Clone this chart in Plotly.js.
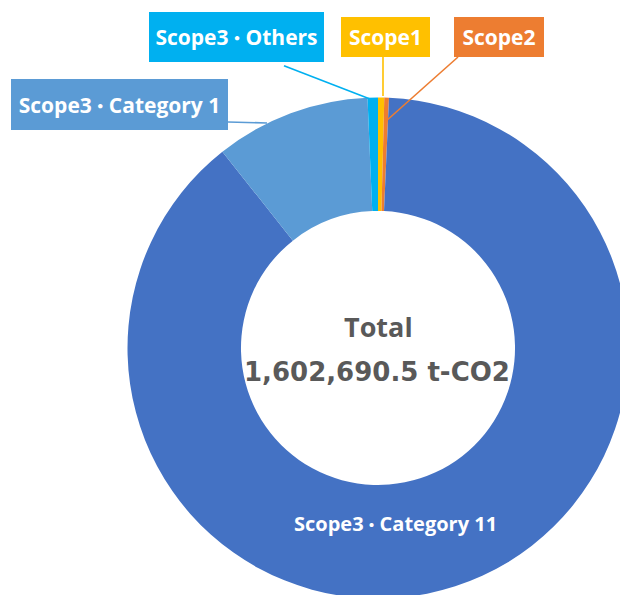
<!DOCTYPE html>
<html>
<head>
<meta charset="utf-8">
<script src="https://cdn.plot.ly/plotly-3.0.1.min.js"></script>
<style>
  html, body { margin: 0; padding: 0; overflow: hidden; background: #ffffff; }
  #chart { width: 760px; height: 760px; }
</style>
</head>
<body>
<div id="chart"></div>
<script>
// ---- data ----
const categories = ["Scope1", "Scope2", "Scope3・Category 11", "Scope3・Category 1", "Scope3・Others"];
const values = [6400, 4800, 1420490.5, 160300, 10700];
const colors = ["#FFC000", "#ED7D31", "#4472C4", "#5B9BD5", "#00B0F0"];
const totalLabel = "Total";
const unitLabel = "t-CO2";

// ---- layout helpers (pixel -> paper) ----
const W = 760, H = 760;
const px = x => x / W;
const py = y => 1 - y / H;

const cx = 378, cy = 348, R = 250.5;

const total = values.reduce((a, b) => a + b, 0);
const totalText = total.toLocaleString("en-US", {minimumFractionDigits: 1, maximumFractionDigits: 1}) + " " + unitLabel;

// render the Japanese middle dot a little smaller so it stays narrow like the original
const fmt = (t, dotSize) => "<b>" + t.replace("・", '<span style="font-size:' + dotSize + 'px">・</span>') + "</b>";

const trace = {
  type: "pie",
  labels: categories,
  values: values,
  marker: { colors: colors, line: { width: 0 } },
  hole: 0.547,
  sort: false,
  direction: "clockwise",
  rotation: 0,
  textinfo: "none",
  hoverinfo: "none",
  showlegend: false,
  domain: { x: [px(cx - R), px(cx + R)], y: [py(cy + R), py(cy - R)] }
};

const labelFont = { family: "Open Sans, Noto Sans CJK JP, sans-serif", size: 21, color: "#ffffff" };

function box(text, color, x0, y0, x1, y1) {
  return {
    xref: "paper", yref: "paper",
    x: px((x0 + x1) / 2), y: py((y0 + y1) / 2),
    xanchor: "center", yanchor: "middle",
    text: fmt(text, 17),
    showarrow: false,
    bgcolor: color, borderwidth: 0, borderpad: 0,
    width: x1 - x0, height: y1 - y0,
    font: labelFont
  };
}

function lead(color, x0, y0, x1, y1) {
  return {
    type: "line", xref: "paper", yref: "paper",
    x0: px(x0), y0: py(y0), x1: px(x1), y1: py(y1),
    line: { color: color, width: 1.6 }
  };
}

const annotations = [
  box(categories[3], colors[3], 11, 79, 228, 130),
  box(categories[4], colors[4], 149, 12, 324, 62),
  box(categories[0], colors[0], 341, 17, 430, 57),
  box(categories[1], colors[1], 454, 17, 544, 57),
  {
    xref: "paper", yref: "paper", x: px(396), y: py(523),
    xanchor: "center", yanchor: "middle", showarrow: false,
    text: fmt(categories[2], 16),
    font: { family: "Open Sans, Noto Sans CJK JP, sans-serif", size: 20, color: "#ffffff" }
  },
  {
    xref: "paper", yref: "paper", x: px(378), y: py(326),
    xanchor: "center", yanchor: "middle", showarrow: false,
    text: "<b>" + totalLabel + "</b>",
    font: { family: "Open Sans, sans-serif", size: 27, color: "#595959" }
  },
  {
    xref: "paper", yref: "paper", x: px(377), y: py(372),
    xanchor: "center", yanchor: "middle", showarrow: false,
    text: "<b>" + totalText + "</b>",
    font: { family: "DejaVu Sans, sans-serif", size: 26, color: "#595959" }
  }
];

const shapes = [
  lead(colors[3], 228, 122, 267, 123),
  lead(colors[4], 284, 65.7, 370, 99),
  lead(colors[0], 383, 57, 383, 96),
  lead(colors[1], 458, 57, 385, 122)
];

const layout = {
  width: W, height: H,
  margin: { l: 0, r: 0, t: 0, b: 0 },
  paper_bgcolor: "#ffffff",
  plot_bgcolor: "#ffffff",
  showlegend: false,
  annotations: annotations,
  shapes: shapes
};

Plotly.newPlot("chart", [trace], layout, { displayModeBar: false, staticPlot: true });
</script>
</body>
</html>
